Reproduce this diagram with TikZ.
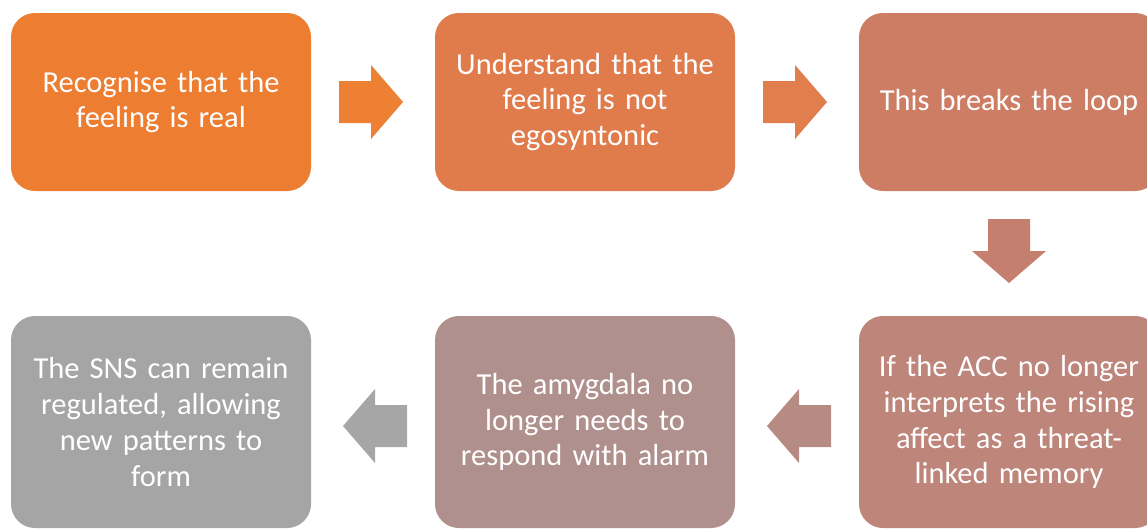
\documentclass[tikz,border=0pt]{standalone}
\usepackage{fontspec}
\setmainfont{Carlito}
\definecolor{c1}{RGB}{237,125,49}
\definecolor{c2}{RGB}{224,123,76}
\definecolor{c3}{RGB}{205,125,99}
\definecolor{c4}{RGB}{190,133,122}
\definecolor{c5}{RGB}{175,144,140}
\definecolor{c6}{RGB}{165,165,165}
\definecolor{a1}{RGB}{238,128,52}
\definecolor{a2}{RGB}{225,126,78}
\definecolor{a3}{RGB}{197,127,110}
\definecolor{a4}{RGB}{182,139,132}
\definecolor{a5}{RGB}{166,166,166}
\tikzset{
  box/.style={rectangle, rounded corners=24pt, minimum width=300pt, text=white,
    text width=296pt, align=center, inner sep=0pt,
    font=\fontsize{30.5}{35.8}\selectfont},
  toprow/.style={box, minimum height=178pt},
  botrow/.style={box, minimum height=212pt},
  barrow/.pic={\fill[pic actions] (0,-21) -- (32,-21) -- (32,-37) -- (64,0) -- (32,37) -- (32,21) -- (0,21) -- cycle;}
}
\begin{document}
\begin{tikzpicture}[x=1pt,y=-1pt]
\useasboundingbox (0,0) rectangle (1147,528);
\clip (0,0) rectangle (1147,528);
\node[toprow, fill=c1] (b1) at (161,102) {Recognise that the\\feeling is real};
\node[toprow, fill=c2] (b2) at (585,102) {Understand that the\\feeling is not\\egosyntonic};
\node[toprow, fill=c3] (b3) at (1009,102) {This breaks the loop};
\node[botrow, fill=c4] (b4) at (1009,422) {If the ACC no longer\\interprets the rising\\affect as a threat-\\linked memory};
\node[botrow, fill=c5] (b5) at (585,422) {The amygdala no\\longer needs to\\respond with alarm};
\node[botrow, fill=c6] (b6) at (161,422) {The SNS can remain\\regulated, allowing\\new patterns to\\form};
\coordinate (t1) at (339,102);
\coordinate (t2) at (763,102);
\coordinate (t3) at (1009,219);
\coordinate (t4) at (831,426);
\coordinate (t5) at (407,426);
\pic[fill=a1] at (t1) {barrow};
\pic[fill=a2] at (t2) {barrow};
\pic[fill=a3, rotate=-90] at (t3) {barrow};
\pic[fill=a4, rotate=180] at (t4) {barrow};
\pic[fill=a5, rotate=180] at (t5) {barrow};
\end{tikzpicture}
\end{document}
